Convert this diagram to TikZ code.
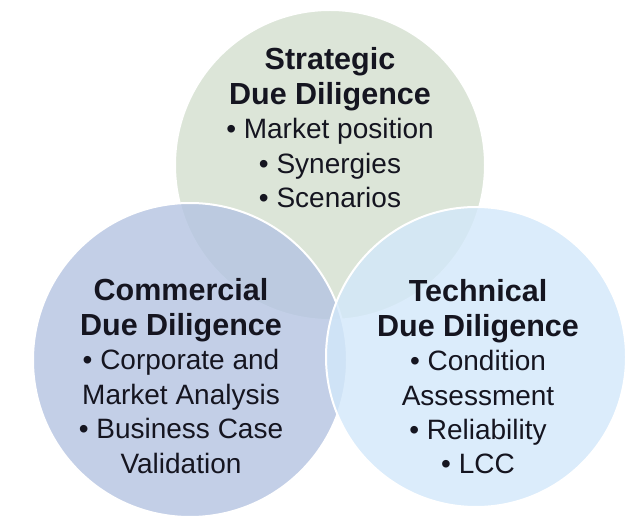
\documentclass[tikz,border=0pt]{standalone}
\usepackage{fontspec}
\setmainfont{Liberation Sans}
\definecolor{stratfill}{HTML}{DCE5D8}
\definecolor{commfill}{HTML}{B4C4E2}
\definecolor{techfill}{HTML}{D3E8FA}
\definecolor{ink}{HTML}{151520}
\newcommand{\hd}[1]{{\bfseries\fontsize{30.5}{34.5}\selectfont #1}}
\begin{document}
\begin{tikzpicture}[x=1pt, y=-1pt,
                    ring/.style={circle,draw=white,line width=2pt,inner sep=0pt},
                    main text/.style={align=center,anchor=base,inner sep=0pt,text=ink,
                                      font=\fontsize{28}{34.5}\selectfont}]

  \useasboundingbox[fill=white] (0,0) rectangle (632,518);

  \node[ring, fill=stratfill, minimum size=310pt] (s) at (330,165) {};
  \node[ring, fill=commfill, fill opacity=0.8, minimum size=314pt] (c) at (190,360) {};
  \node[ring, fill=techfill, fill opacity=0.8, minimum size=300pt] (t) at (476,357) {};

  % anchor = baseline of the last line
  \node[main text] (1) at (330,208) {\hd{Strategic}\\ \hd{Due Diligence}\\
    • Market position\\ • Synergies\\ • Scenarios};
  \node[main text] (2) at (181,473) {\hd{Commercial}\\ \hd{Due Diligence}\\
    • Corporate and\\ Market Analysis\\ • Business Case\\ Validation};
  \node[main text] (3) at (478,474) {\hd{Technical}\\ \hd{Due Diligence}\\
    • Condition\\ Assessment\\ • Reliability\\ • LCC};

\end{tikzpicture}
\end{document}
